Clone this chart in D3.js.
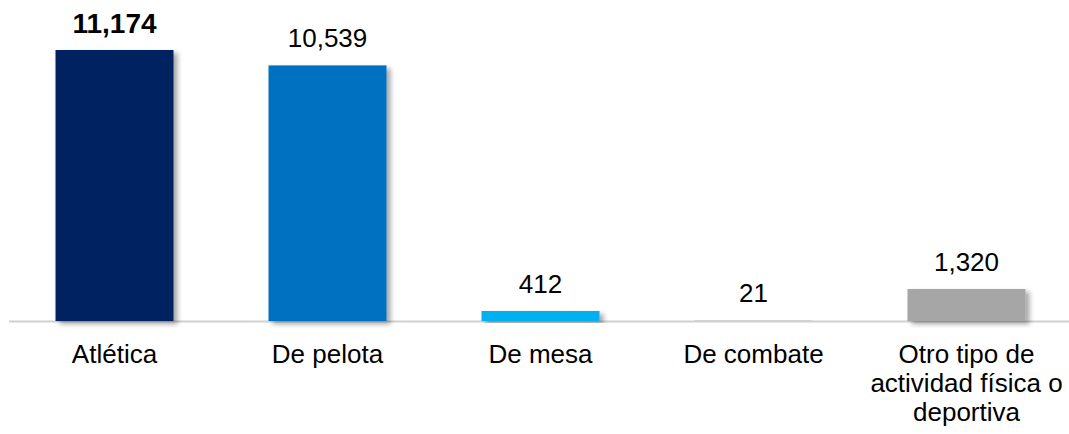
<!DOCTYPE html>
<html>
<head>
  <meta charset="utf-8">
  <script src="https://d3js.org/d3.v7.min.js"></script>
  <style>
    body { margin: 0; background: #ffffff; }
    text { font-family: 'Liberation Sans', Arial, sans-serif; fill: #000; }
  </style>
</head>
<body>
  <div id="chart"></div>
  <script>
    var width = 1069;
    var height = 434;

    // data
    const categories = ["Atlética", "De pelota", "De mesa", "De combate", "Otro tipo de actividad física o deportiva"];
    const labelLines = [["Atlética"], ["De pelota"], ["De mesa"], ["De combate"], ["Otro tipo de", "actividad física o", "deportiva"]];
    const values = [11174, 10539, 412, 21, 1320];
    const colors = ["#002060", "#0070C0", "#00B0F0", "#BFBFBF", "#A6A6A6"];

    const baseY = 321;
    const topY = 50;

    var svg = d3.select("#chart").append("svg")
      .attr("width", width)
      .attr("height", height);

    var defs = svg.append("defs");
    var filter = defs.append("filter")
      .attr("id", "shadow")
      .attr("x", "-10%").attr("y", "-10%")
      .attr("width", "130%").attr("height", "130%");
    filter.append("feDropShadow")
      .attr("dx", 4).attr("dy", 3)
      .attr("stdDeviation", 2.5)
      .attr("flood-color", "#000")
      .attr("flood-opacity", 0.35);

    var x = d3.scaleBand()
      .domain(categories)
      .range([8, 1073])
      .paddingInner(0.446)
      .paddingOuter(0.223);

    var y = d3.scaleLinear()
      .domain([0, d3.max(values)])
      .range([baseY, topY]);

    var data = categories.map(function (c, i) {
      return { name: c, value: values[i], color: colors[i], lines: labelLines[i] };
    });

    // baseline
    svg.append("line")
      .attr("x1", 9).attr("x2", 1069)
      .attr("y1", baseY + 0.5).attr("y2", baseY + 0.5)
      .style("stroke", "#D0D0D0")
      .style("stroke-width", 2);

    svg.append("g")
      .selectAll("rect")
      .data(data)
      .enter()
      .append("rect")
      .attr("x", function (d) { return x(d.name); })
      .attr("y", function (d) { return y(d.value); })
      .attr("width", x.bandwidth())
      .attr("height", function (d) { return baseY - y(d.value); })
      .style("fill", function (d) { return d.color; })
      .attr("filter", function (d) { return d.value > 100 ? "url(#shadow)" : null; });

    // value labels
    svg.append("g")
      .selectAll("text")
      .data(data)
      .enter()
      .append("text")
      .attr("x", function (d) { return x(d.name) + x.bandwidth() / 2; })
      .attr("y", function (d, i) { return y(d.value) - (i === 0 ? 17 : 18); })
      .attr("text-anchor", "middle")
      .style("font-weight", function (d, i) { return i === 0 ? "bold" : "normal"; })
      .style("font-size", function (d, i) { return i === 0 ? "28px" : "26px"; })
      .text(function (d) { return d3.format(",")(d.value); });

    // category labels
    var cat = svg.append("g")
      .selectAll("text")
      .data(data)
      .enter()
      .append("text")
      .attr("x", function (d) { return x(d.name) + x.bandwidth() / 2; })
      .attr("y", 363)
      .attr("text-anchor", "middle")
      .style("font-size", "26px");

    cat.selectAll("tspan")
      .data(function (d) { return d.lines; })
      .enter()
      .append("tspan")
      .attr("x", function () { var p = d3.select(this.parentNode).datum(); return x(p.name) + x.bandwidth() / 2; })
      .attr("dy", function (d, i) { return i === 0 ? 0 : 29; })
      .text(function (d) { return d; });
  </script>
</body>
</html>
